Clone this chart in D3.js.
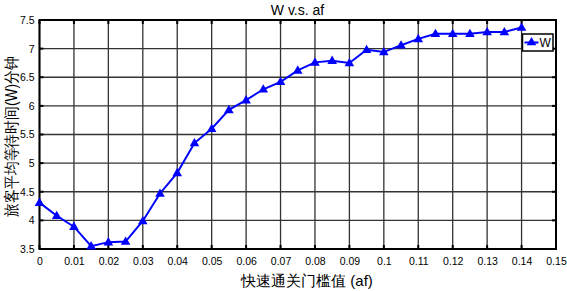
<!DOCTYPE html>
<html>
<head>
<meta charset="utf-8">
<script src="https://cdn.jsdelivr.net/npm/d3@7"></script>
<style>
  body { margin: 0; background: #fff; }
  text { font-family: "Liberation Sans", Arial, sans-serif; }
</style>
</head>
<body>
<div id="chart"></div>
<script>
// data
var afValues = [0, 0.005, 0.01, 0.015, 0.02, 0.025, 0.03, 0.035, 0.04, 0.045, 0.05,
  0.055, 0.06, 0.065, 0.07, 0.075, 0.08, 0.085, 0.09, 0.095, 0.1, 0.105, 0.11,
  0.115, 0.12, 0.125, 0.13, 0.135, 0.14];
var wValues = [4.31, 4.08, 3.89, 3.55, 3.62, 3.63, 3.99, 4.47, 4.83, 5.35, 5.60,
  5.93, 6.10, 6.29, 6.42, 6.62, 6.76, 6.79, 6.75, 6.98, 6.94, 7.06, 7.17,
  7.26, 7.26, 7.26, 7.29, 7.29, 7.37];
var xTicks = d3.range(0, 16).map(function(i){ return i / 100; });
var yTicks = [3.5, 4, 4.5, 5, 5.5, 6, 6.5, 7, 7.5];
var seriesName = "W";

var margin = { top: 20, right: 11, bottom: 42, left: 39.5 };
var width = 567 - margin.left - margin.right;
var height = 291 - margin.top - margin.bottom;

var svg = d3.select("#chart").append("svg")
  .attr("width", 567)
  .attr("height", 291);

var g = svg.append("g")
  .attr("transform", "translate(" + margin.left + "," + margin.top + ")");

var x = d3.scaleLinear().domain([0, 0.15]).range([0, width]);
var y = d3.scaleLinear().domain([3.5, 7.5]).range([height, 0]);

// grid
g.append("g").selectAll("line").data(xTicks).enter().append("line")
  .attr("x1", function(d){ return x(d); }).attr("x2", function(d){ return x(d); })
  .attr("y1", 0).attr("y2", height)
  .attr("stroke", "#333").attr("stroke-width", 1.3);
g.append("g").selectAll("line").data(yTicks).enter().append("line")
  .attr("x1", 0).attr("x2", width)
  .attr("y1", function(d){ return y(d); }).attr("y2", function(d){ return y(d); })
  .attr("stroke", "#333").attr("stroke-width", 1.3);

// axes
var xAxis = g.append("g")
  .attr("transform", "translate(0," + height + ")")
  .call(d3.axisBottom(x).tickValues(xTicks).tickSize(0).tickPadding(9)
    .tickFormat(function(d){ return d3.format("")(+d.toFixed(2)); }));
var yAxis = g.append("g")
  .call(d3.axisLeft(y).tickValues(yTicks).tickSize(0).tickPadding(5)
    .tickFormat(function(d){ return d; }));
[xAxis, yAxis].forEach(function(a){
  a.select(".domain").remove();
  a.selectAll("text").attr("font-size", 10.5).attr("fill", "#000")
    .attr("font-family", "Liberation Sans, Arial, sans-serif");
});

// box
g.append("rect").attr("width", width).attr("height", height)
  .attr("fill", "none").attr("stroke", "#000").attr("stroke-width", 2);

// inner tick marks on all four sides
g.append("g").selectAll("line").data(xTicks).enter().append("line")
  .attr("x1", function(d){ return x(d); }).attr("x2", function(d){ return x(d); })
  .attr("y1", 0).attr("y2", 4).attr("stroke", "#000").attr("stroke-width", 2);
g.append("g").selectAll("line").data(xTicks).enter().append("line")
  .attr("x1", function(d){ return x(d); }).attr("x2", function(d){ return x(d); })
  .attr("y1", height - 4).attr("y2", height).attr("stroke", "#000").attr("stroke-width", 2);
g.append("g").selectAll("line").data(yTicks).enter().append("line")
  .attr("x1", width - 4).attr("x2", width)
  .attr("y1", function(d){ return y(d); }).attr("y2", function(d){ return y(d); })
  .attr("stroke", "#000").attr("stroke-width", 2);
g.append("g").selectAll("line").data(yTicks).enter().append("line")
  .attr("x1", 0).attr("x2", 4)
  .attr("y1", function(d){ return y(d); }).attr("y2", function(d){ return y(d); })
  .attr("stroke", "#000").attr("stroke-width", 2);

// line
var points = afValues.map(function(d, i){ return [d, wValues[i]]; });
var line = d3.line().x(function(d){ return x(d[0]); }).y(function(d){ return y(d[1]); });
g.append("path").datum(points)
  .attr("d", line).attr("fill", "none")
  .attr("stroke", "#0000ff").attr("stroke-width", 2);

var tri = d3.symbol().type(d3.symbolTriangle).size(40);
g.selectAll(".mk").data(points).enter().append("path")
  .attr("class", "mk")
  .attr("d", tri)
  .attr("transform", function(d){ return "translate(" + x(d[0]) + "," + (y(d[1]) + 0.5) + ")"; })
  .attr("fill", "#0000ff");

// legend
var lg = g.append("g").attr("transform", "translate(" + (width - 33.5) + ",14)");
lg.append("rect").attr("width", 30.5).attr("height", 17)
  .attr("fill", "#fff").attr("stroke", "#000").attr("stroke-width", 1.5);
lg.append("line").attr("x1", 2).attr("x2", 16).attr("y1", 8.5).attr("y2", 8.5)
  .attr("stroke", "#0000ff").attr("stroke-width", 2);
lg.append("path").attr("d", tri).attr("transform", "translate(9,8.5)").attr("fill", "#0000ff");
lg.append("text").attr("x", 17).attr("y", 13).attr("font-size", 12).text(seriesName);

// title and labels
svg.append("text").attr("x", 297.5).attr("y", 15)
  .attr("text-anchor", "middle").attr("font-size", 14).text("W v.s. af");
svg.append("text").attr("x", 307).attr("y", 286)
  .attr("text-anchor", "middle").attr("font-size", 15)
  .attr("font-family", "Noto Sans CJK SC, sans-serif")
  .text("快速通关门槛值 (af)");
svg.append("text")
  .attr("transform", "translate(16.5,136.5) rotate(-90) scale(0.86,1)")
  .attr("text-anchor", "middle").attr("font-size", 16)
  .attr("font-family", "Noto Sans CJK SC, sans-serif")
  .text("旅客平均等待时间(W)分钟");
</script>
</body>
</html>
